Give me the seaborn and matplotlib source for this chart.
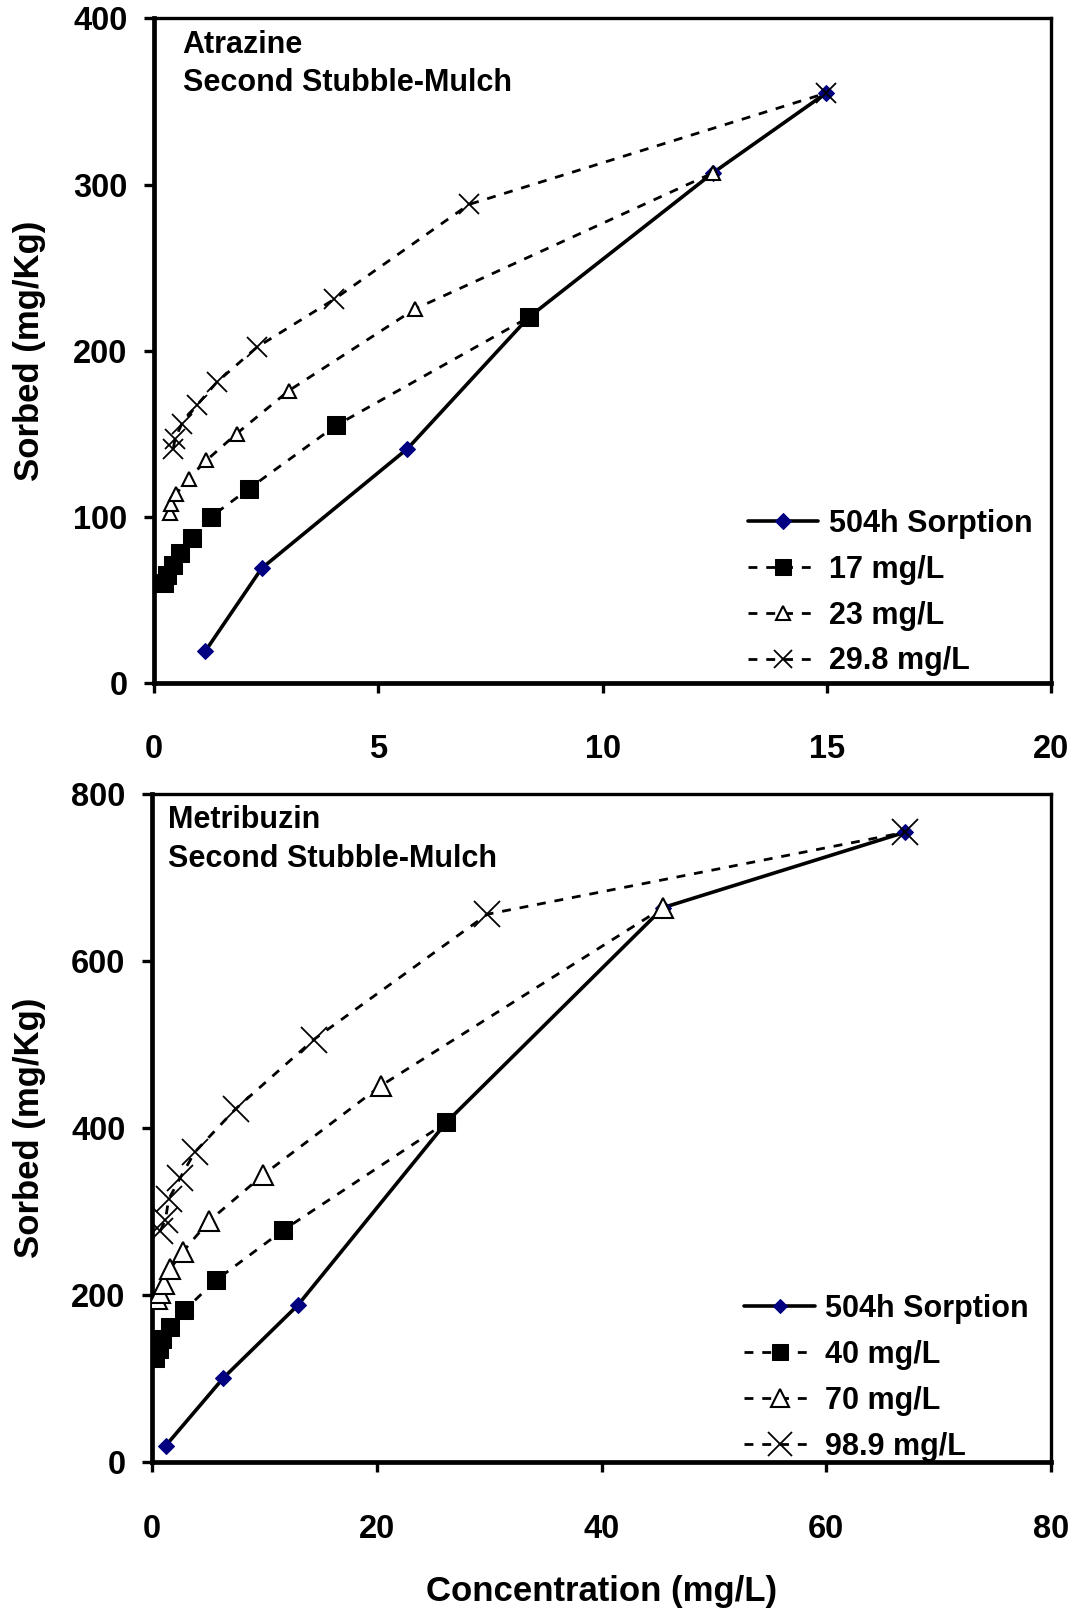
import numpy as np
import pandas as pd
import matplotlib
matplotlib.use("Agg")
import matplotlib.pyplot as plt
import seaborn as sns

# ---- Atrazine, second stubble-mulch ----
atz_sorp_x = [1.14, 2.40, 5.65, 8.35, 12.46, 14.98]
atz_sorp_y = [19, 69, 141, 220, 307, 355]
atz_17_x = [0.22, 0.28, 0.43, 0.58, 0.85, 1.27, 2.12, 4.06, 8.35]
atz_17_y = [60, 65, 71, 78, 87, 100, 117, 155, 220]
atz_23_x = [0.36, 0.38, 0.50, 0.77, 1.17, 1.84, 3.01, 5.81, 12.46]
atz_23_y = [102, 108, 114, 123, 134, 150, 176, 225, 307]
atz_29_x = [0.43, 0.47, 0.62, 0.95, 1.40, 2.29, 4.02, 7.02, 14.98]
atz_29_y = [141, 147, 156, 167, 181, 202, 231, 288, 355]
atz_labels = ["504h Sorption", "17 mg/L", "23 mg/L", "29.8 mg/L"]

# ---- Metribuzin, second stubble-mulch ----
met_sorp_x = [1.24, 6.36, 12.98, 26.2, 45.5, 66.97]
met_sorp_y = [20, 101, 188, 407, 664, 754]
met_40_x = [0.3, 0.6, 0.9, 1.6, 2.9, 5.7, 11.7, 26.2]
met_40_y = [125, 136, 148, 162, 182, 218, 278, 407]
met_70_x = [0.5, 0.75, 1.05, 1.65, 2.75, 5.1, 9.9, 20.4, 45.5]
met_70_y = [195, 203, 214, 232, 252, 289, 344, 451, 664]
met_99_x = [0.75, 1.2, 1.5, 2.5, 3.8, 7.45, 14.4, 29.85, 66.97]
met_99_y = [277, 290, 315, 340, 371, 423, 506, 656, 754]
met_labels = ["504h Sorption", "40 mg/L", "70 mg/L", "98.9 mg/L"]

sns.set_style("ticks")
plt.rcParams["font.family"] = ["Liberation Sans", "DejaVu Sans"]
plt.rcParams["font.weight"] = "bold"
for key in ("text.color", "axes.labelcolor", "xtick.color", "ytick.color",
            "axes.edgecolor"):
    plt.rcParams[key] = "black"

fig = plt.figure(figsize=(10.77, 16.13), dpi=100)
ax1 = fig.add_axes([0.143, 0.5766, 0.833, 0.412])
ax2 = fig.add_axes([0.141, 0.0934, 0.835, 0.4144])

DASH = (3.2, 3.2)


def draw_panel(ax, series, labels, sizes):
    (sx, sy), (ax_, ay), (bx, by), (cx, cy) = series
    d_ms, s_ms, t_ms, x_ms = sizes
    sns.lineplot(x=sx, y=sy, ax=ax, sort=False, estimator=None, color="black",
                 lw=2.6, marker="D", ms=d_ms, mfc="#000080", mec="#000080",
                 label=labels[0], zorder=3)
    sns.lineplot(x=ax_, y=ay, ax=ax, sort=False, estimator=None, color="black",
                 lw=2.0, dashes=DASH, marker="s", ms=s_ms, mfc="black",
                 mec="black", label=labels[1], zorder=4)
    sns.lineplot(x=bx, y=by, ax=ax, sort=False, estimator=None, color="black",
                 lw=2.0, dashes=DASH, marker="^", ms=t_ms, mfc="white",
                 mec="black", mew=1.5, label=labels[2], zorder=4)
    sns.lineplot(x=cx, y=cy, ax=ax, sort=False, estimator=None, color="black",
                 lw=2.0, dashes=DASH, marker="x", ms=x_ms, mec="black",
                 mew=1.3, label=labels[3], zorder=4)


draw_panel(ax1,
           [(atz_sorp_x, atz_sorp_y), (atz_17_x, atz_17_y),
            (atz_23_x, atz_23_y), (atz_29_x, atz_29_y)],
           atz_labels, (8.5, 12.5, 10.5, 14))
draw_panel(ax2,
           [(met_sorp_x, met_sorp_y), (met_40_x, met_40_y),
            (met_70_x, met_70_y), (met_99_x, met_99_y)],
           met_labels, (8.0, 13.0, 14, 19))

ax1.set_xlim(0, 20)
ax1.set_ylim(0, 400)
ax1.set_xticks([0, 5, 10, 15, 20])
ax1.set_yticks([0, 100, 200, 300, 400])
ax2.set_xlim(0, 80)
ax2.set_ylim(0, 800)
ax2.set_xticks([0, 20, 40, 60, 80])
ax2.set_yticks([0, 200, 400, 600, 800])

for ax in (ax1, ax2):
    ax.set_facecolor("white")
    for side in ("left", "bottom"):
        ax.spines[side].set_linewidth(3.4)
    for side in ("top", "right"):
        ax.spines[side].set_visible(True)
        ax.spines[side].set_linewidth(2.4)
    for sp in ax.spines.values():
        sp.set_color("black")
    ax.tick_params(axis="y", direction="out", length=7, width=2.4,
                   pad=12, labelsize=23.5, colors="black")
    ax.tick_params(axis="x", direction="out", length=7, width=2.4,
                   pad=30, labelsize=23.5, colors="black")
    for lab in ax.get_xticklabels() + ax.get_yticklabels():
        lab.set_fontweight("bold")
    ax.set_ylabel("Sorbed (mg/Kg)", fontsize=25, fontweight="bold",
                  color="black")
    ax.set_xlabel("")

ax1.yaxis.set_label_coords(-0.12, 0.5)
ax2.yaxis.set_label_coords(-0.118, 0.5)
ax2.set_xlabel("Concentration (mg/L)", fontsize=25, fontweight="bold",
               labelpad=22, color="black")

ax1.text(0.032, 0.983, "Atrazine\nSecond Stubble-Mulch", transform=ax1.transAxes,
         fontsize=22, fontweight="bold", va="top", ha="left",
         linespacing=1.36, color="black")
ax2.text(0.018, 0.983, "Metribuzin\nSecond Stubble-Mulch",
         transform=ax2.transAxes, fontsize=22, fontweight="bold",
         va="top", ha="left", linespacing=1.36, color="black")

for ax, anchor in ((ax1, (0.662, 0.262)), (ax2, (0.659, 0.252))):
    leg = ax.legend(loc="upper left", bbox_to_anchor=anchor, frameon=False,
                    prop={"weight": "bold", "size": 22},
                    handlelength=2.3, handletextpad=0.35, borderpad=0,
                    borderaxespad=0, labelspacing=0.52, markerscale=0.9)
    for t in leg.get_texts():
        t.set_color("black")

fig.savefig("out.png", dpi=100, facecolor="white")
